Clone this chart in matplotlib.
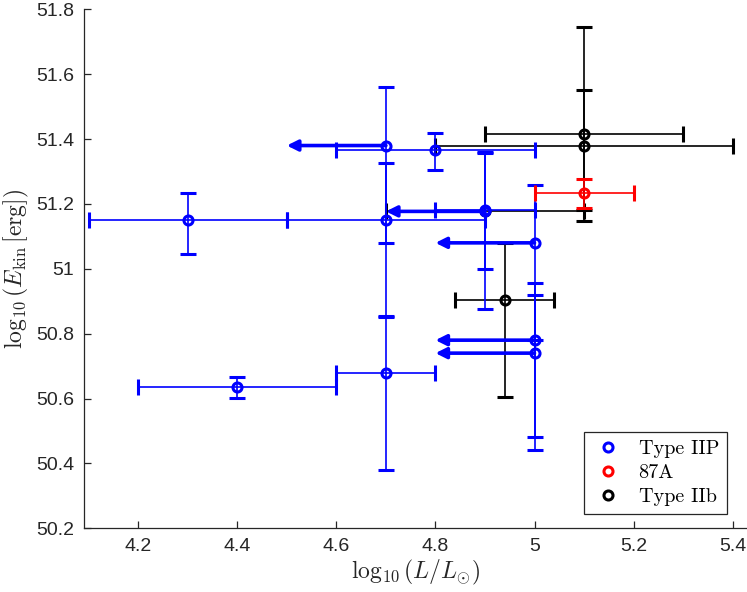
import matplotlib
matplotlib.use("Agg")
import matplotlib.pyplot as plt
from matplotlib.lines import Line2D
from matplotlib.ticker import FormatStrFormatter

plt.rcParams['mathtext.fontset'] = 'cm'
plt.rcParams['font.family'] = ['Liberation Sans', 'DejaVu Sans']

# Type IIP (blue)
iip_L = [4.3, 4.7, 4.7, 4.7, 4.4, 4.8, 4.9, 4.9, 5.0, 5.0, 5.0]
iip_E = [51.15, 51.15, 51.38, 50.68, 50.635, 51.365, 51.18, 51.177, 51.08, 50.78, 50.74]
iip_xerr = [0.2, 0.2, 0, 0.1, 0.2, 0.2, 0.1, 0, 0, 0, 0]
iip_ylo = [0.105, 0.30, 0.30, 0.30, 0.033, 0.06, 0.18, 0.30, 0.30, 0.30, 0.30]
iip_yhi = [0.083, 0.175, 0.18, 0.175, 0.03, 0.055, 0.18, 0.18, 0.177, 0.177, 0.178]
iip_lim = [0, 0, 1, 0, 0, 0, 0, 1, 1, 1, 1]   # upper limit in L -> arrow
arrow_len = 0.2

# 87A (red)
a87_L = [5.1]
a87_E = [51.234]
a87_xerr = [0.1]
a87_ylo = [0.046]
a87_yhi = [0.042]

# Type IIb (black)
iib_L = [4.9, 5.1, 5.1, 4.94]
iib_E = [51.177, 51.415, 51.38, 50.904]
iib_xerr = [0.2, 0.2, 0.3, 0.1]
iib_ylo = [0, 0.267, 0.2, 0.30]
iib_yhi = [0, 0.33, 0.17, 0.176]

fig = plt.figure(figsize=(7.47, 5.92), dpi=100)
ax = fig.add_axes([84/747, (592-528.3)/592, 1-84/747, (528.3-9.3)/592])

def draw(L, E, xe, ylo, yhi, col, z):
    for i in range(len(L)):
        xerr = xe[i] if xe[i] > 0 else None
        yerr = [[ylo[i]], [yhi[i]]] if (ylo[i] > 0 or yhi[i] > 0) else None
        ax.errorbar(L[i], E[i], xerr=xerr, yerr=yerr, fmt='o', color=col,
                    mfc='none', mec=col, ms=6.5, mew=2.2, elinewidth=1.2,
                    capsize=5.8, capthick=0.8, zorder=z)

draw(iib_L, iib_E, iib_xerr, iib_ylo, iib_yhi, 'black', 2)
draw(iip_L, iip_E, iip_xerr, iip_ylo, iip_yhi, 'blue', 3)
for x, y, lim in zip(iip_L, iip_E, iip_lim):
    if lim:
        ax.annotate('', xy=(x - arrow_len, y), xytext=(x, y),
                    arrowprops=dict(arrowstyle='-|>', color='blue', lw=2.6,
                                    mutation_scale=16, shrinkA=0, shrinkB=0),
                    zorder=4)
draw(a87_L, a87_E, a87_xerr, a87_ylo, a87_yhi, 'red', 5)

ax.set_xlim(4.0905, 5.429)
ax.set_ylim(50.2, 51.8)
ax.set_xticks([4.2, 4.4, 4.6, 4.8, 5.0, 5.2, 5.4])
ax.set_yticks([50.2, 50.4, 50.6, 50.8, 51.0, 51.2, 51.4, 51.6, 51.8])
ax.xaxis.set_major_formatter(FormatStrFormatter('%g'))
ax.yaxis.set_major_formatter(FormatStrFormatter('%g'))
ax.tick_params(direction='in', length=5, width=0.9, labelsize=14, color='#262626',
               labelcolor='#262626', pad=7)
for s in ['top', 'right']:
    ax.spines[s].set_visible(False)
for s in ['left', 'bottom']:
    ax.spines[s].set_color('#262626')
    ax.spines[s].set_linewidth(0.9)

ax.set_xlabel(r'$\log_{10}(L/L_{\odot})$', fontsize=17, color='#262626', labelpad=2)
ax.set_ylabel(r'$\log_{10}(E_{\rm kin}\,[{\rm erg}])$', fontsize=17, color='#262626', labelpad=4)

handles = [Line2D([], [], ls='none', marker='o', mfc='none', mec=c, mew=2.2, ms=6.5)
           for c in ['blue', 'red', 'black']]
labels = ['Type IIP', '87A', 'Type IIb']
leg = ax.legend(handles, labels, loc='lower right', bbox_to_anchor=(727/747, (592-514)/592),
                bbox_transform=fig.transFigure, borderaxespad=0, fancybox=False,
                framealpha=1, edgecolor='#262626', prop={'family': 'cmr10', 'size': 14.5},
                handlelength=1.6, handletextpad=0.7, borderpad=0.4, labelspacing=0.3)
leg.get_frame().set_linewidth(0.9)

fig.savefig('out.png', dpi=100)
